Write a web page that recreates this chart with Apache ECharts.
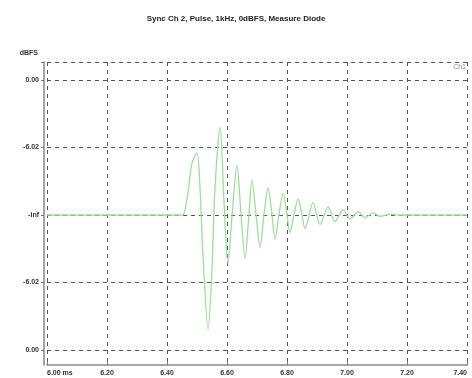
<!DOCTYPE html>
<html>
<head>
<meta charset="utf-8">
<script src="https://cdn.jsdelivr.net/npm/echarts@6/dist/echarts.min.js"></script>
<style>
  html, body { margin: 0; padding: 0; background: #fff; }
  #chart { width: 472px; height: 378px; }
</style>
</head>
<body>
<div id="chart"></div>
<script>
// Pulse response of the measured diode, time in ms, amplitude in FS (linear)
const timeMs = [
  6.000, 6.443, 6.453, 6.467, 6.483, 6.500, 6.510, 6.520, 6.537, 6.550,
  6.560, 6.577, 6.590, 6.603, 6.617, 6.633, 6.647, 6.660, 6.673, 6.683,
  6.697, 6.710, 6.723, 6.737, 6.750, 6.760, 6.773, 6.787, 6.800, 6.810,
  6.823, 6.837, 6.850, 6.860, 6.887, 6.910, 6.937, 6.960, 6.987, 7.010,
  7.037, 7.060, 7.087, 7.110, 7.143, 7.177, 7.400
];
const amplitude = [
  0.00, 0.00, 0.00, 0.12, 0.38, 0.46, 0.20, -0.30, -0.85, -0.40,
  0.20, 0.65, 0.10, -0.36, 0.00, 0.37, 0.00, -0.32, 0.00, 0.26,
  0.00, -0.24, 0.00, 0.20, 0.00, -0.18, 0.00, 0.16, 0.00, -0.13,
  0.00, 0.12, 0.00, -0.10, 0.09, -0.07, 0.06, -0.05, 0.04, -0.03,
  0.025, -0.02, 0.015, -0.01, 0.005, 0.00, 0.00
];

// Tick positions (linear FS) and their dBFS labels
const yTicks = [-1, -0.5, 0, 0.5, 1];
const yTickLabels = ['0.00', '-6.02', '-inf', '-6.02', '0.00'];
const xTickLabels = ['6.00 ms', '6.20', '6.40', '6.60', '6.80', '7.00', '7.20', '7.40'];

const titleText = 'Sync Ch 2, Pulse, 1kHz, 0dBFS, Measure Diode';
const traceName = 'Ch1';

const yMin = -1.111, yMax = 1.133;

const chart = echarts.init(document.getElementById('chart'));
const font = 'Liberation Sans, Arial, sans-serif';
const labelStyle = { fontSize: 7, color: '#333', fontWeight: 'bold', fontFamily: font };

chart.setOption({
  animation: false,
  backgroundColor: '#fff',
  title: {
    text: titleText,
    left: 'center',
    top: 10,
    textStyle: { fontSize: 8, fontWeight: 'bold', color: '#222', fontFamily: font }
  },
  graphic: [{
    type: 'text',
    right: 6,
    top: 64,
    style: { text: traceName, fontSize: 7, fill: '#888', fontFamily: font }
  }],
  grid: { left: 47, right: 5, top: 62, bottom: 13, containLabel: false },
  xAxis: {
    type: 'value',
    min: 6.0,
    max: 7.4,
    interval: 0.2,
    axisLine: { show: true, onZero: false, lineStyle: { color: '#888', width: 1.5 } },
    axisTick: { show: true, inside: true, length: 4, lineStyle: { color: '#777' } },
    axisLabel: Object.assign({}, labelStyle, {
      margin: 5,
      alignMinLabel: 'left', alignMaxLabel: 'right',
      formatter: function (v) {
        const i = Math.round((v - 6.0) / 0.2);
        return xTickLabels[i] !== undefined ? xTickLabels[i] : '';
      }
    }),
    splitLine: { show: true, lineStyle: { color: '#555', type: [4, 4], width: 1 } }
  },
  yAxis: {
    type: 'value',
    min: yMin,
    max: yMax,
    offset: 3,
    name: 'dBFS',
    nameLocation: 'end',
    nameGap: 5,
    nameTextStyle: Object.assign({}, labelStyle, { align: 'right', padding: [0, 6, 0, 0] }),
    axisLine: { show: true, lineStyle: { color: '#888', width: 1.5 } },
    axisTick: {
      show: true, length: 3, lineStyle: { color: '#777' },
      customValues: yTicks.concat([yMax])
    },
    axisLabel: Object.assign({}, labelStyle, {
      margin: 5,
      customValues: yTicks,
      formatter: function (v) {
        const i = yTicks.findIndex(t => Math.abs(t - v) < 1e-6);
        return i >= 0 ? yTickLabels[i] : '';
      }
    }),
    splitLine: { show: true, lineStyle: { color: '#555', type: [4, 4], width: 1 } }
  },
  series: [{
    name: traceName,
    type: 'line',
    data: timeMs.map((t, i) => [t, amplitude[i]]),
    smooth: 0.3,
    showSymbol: false,
    lineStyle: { color: '#98e098', width: 1.3 },
    z: 5
  }]
});
</script>
</body>
</html>
